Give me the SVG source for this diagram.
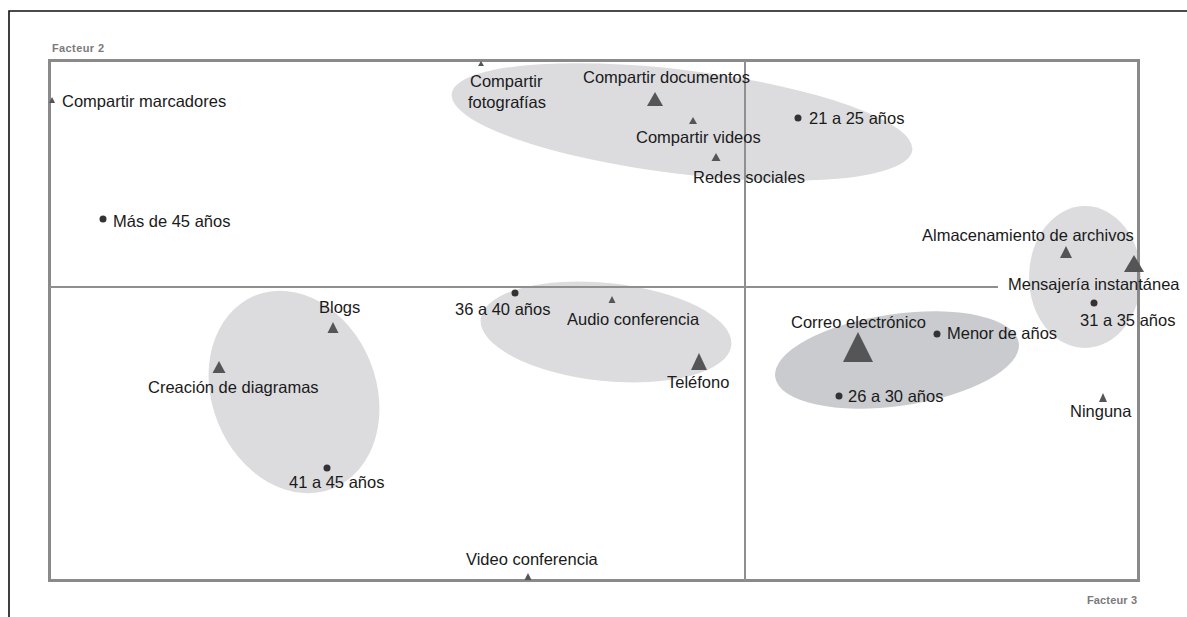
<svg xmlns="http://www.w3.org/2000/svg" width="1187" height="617" viewBox="0 0 1187 617">
<style>
text{font-family:"Liberation Sans",Arial,sans-serif;font-size:16.5px;fill:#1a1a1a}
.fac{font-size:11px;font-weight:bold;fill:#7a7a7a}
.ell{fill:#dcdcdf}
.ell2{fill:#c9cbcf}
.tri{fill:#555558}
.dot{fill:#333}
.halo{fill:#e6e6e6}
.axis{stroke:#8f8f8f;stroke-width:2;fill:none}
.frame{stroke:#8a8a8a;stroke-width:3;fill:none}
</style>
<rect width="1187" height="617" fill="#fff"/>
<path d="M9 617 V11 H1187" stroke="#111" stroke-width="1.6" fill="none"/>
<g id="clusters">
<ellipse class="ell" cx="682" cy="122" rx="232" ry="52" transform="rotate(7 682 122)"/>
<ellipse class="ell" cx="294" cy="392" rx="82" ry="104" transform="rotate(-22 294 392)"/>
<ellipse class="ell" cx="606" cy="332" rx="126" ry="49" transform="rotate(6 606 332)" fill="#e2e2e3"/>
<ellipse class="ell2" cx="897" cy="360" rx="123" ry="46" transform="rotate(-8 897 360)"/>
<ellipse class="ell" cx="1085" cy="277" rx="56" ry="71"/>
</g>
<g id="axes">
<rect class="frame" x="49.5" y="60.5" width="1089" height="520"/>
<line class="axis" x1="49" y1="287" x2="998" y2="287"/>
<line class="axis" x1="745" y1="60" x2="745" y2="581"/>
<text class="fac" x="52" y="52" textLength="52">Facteur 2</text>
<text class="fac" x="1087" y="604" textLength="50">Facteur 3</text>
</g>
<g id="connectors"></g>
<g id="n-marcadores"><polygon class="tri" points="52,97 49,103 55,103"/><text x="62" y="107">Compartir marcadores</text></g>
<g id="n-fotografias"><polygon class="tri" points="481,61 478,66 484,66"/><text x="470" y="87">Compartir</text><text x="468" y="108">fotografías</text></g>
<g id="n-documentos"><polygon class="tri" points="655,92 647,106 663,106"/><text x="583" y="83">Compartir documentos</text></g>
<g id="n-videos"><polygon class="tri" points="693,117 689,124 697,124"/><text x="636" y="143">Compartir videos</text></g>
<g id="n-redes"><polygon class="tri" points="716,153 711.5,161 720.5,161"/><text x="693" y="183">Redes sociales</text></g>
<g id="n-21a25"><circle class="dot" cx="798" cy="118" r="3.5"/><text x="809" y="124">21 a 25 años</text></g>
<g id="n-mas45"><circle class="dot" cx="103" cy="219" r="3.5"/><text x="113" y="227">Más de 45 años</text></g>
<g id="n-almacenamiento"><polygon class="tri" points="1066,246 1060,258 1072,258"/><text x="922" y="241">Almacenamiento de archivos</text></g>
<g id="n-mensajeria"><polygon class="tri" points="1134,255 1124,272 1144,272"/><text x="1008" y="290">Mensajería instantánea</text></g>
<g id="n-31a35"><circle class="dot" cx="1094" cy="303" r="3.5"/><text x="1080" y="326">31 a 35 años</text></g>
<g id="n-menor"><circle class="dot" cx="937" cy="334" r="3.5"/><text x="947" y="339">Menor de años</text></g>
<g id="n-ninguna"><polygon class="tri" points="1103,393 1099,402 1107,402"/><text x="1070" y="417">Ninguna</text></g>
<g id="n-correo"><polygon class="tri" points="858,332 843,362 873,362"/><text x="791" y="328">Correo electrónico</text></g>
<g id="n-26a30"><circle class="dot" cx="839" cy="396" r="3.5"/><text x="848" y="402">26 a 30 años</text></g>
<g id="n-telefono"><polygon class="tri" points="699,353 691,370 707,370"/><text x="667" y="388">Teléfono</text></g>
<g id="n-audio"><polygon class="tri" points="612,296 608.5,303 615.5,303"/><text x="567" y="325">Audio conferencia</text></g>
<g id="n-36a40"><circle class="dot" cx="515" cy="293" r="3.5"/><text x="455" y="315">36 a 40 años</text></g>
<g id="n-blogs"><polygon class="tri" points="333,322 327.5,333 338.5,333"/><text x="319" y="313">Blogs</text></g>
<g id="n-diagramas"><polygon class="tri" points="219,361 212.5,373 225.5,373"/><text x="148" y="393">Creación de diagramas</text></g>
<g id="n-41a45"><circle class="dot" cx="327" cy="468" r="3.5"/><text x="289" y="488">41 a 45 años</text></g>
<g id="n-videoconf"><polygon class="tri" points="528,573 524.5,580 531.5,580"/><text x="466" y="565">Video conferencia</text></g>
</svg>
